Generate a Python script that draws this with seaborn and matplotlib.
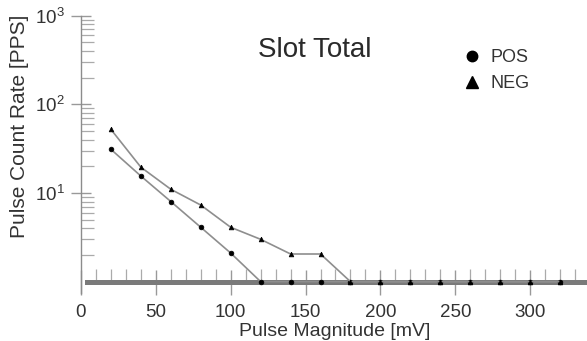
import matplotlib
matplotlib.use("Agg")
import numpy as np
import pandas as pd
import seaborn as sns
import matplotlib.pyplot as plt
from matplotlib.lines import Line2D
from matplotlib.ticker import FixedLocator, MultipleLocator, FixedFormatter, NullFormatter

# ---- data ----
magnitude_mv = [20, 40, 60, 80, 100, 120, 140, 160, 180, 200, 220, 240, 260, 280, 300, 320]
pos_rate = [31, 15.5, 8, 4.1, 2.1, 1, 1, 1, 1, 1, 1, 1, 1, 1, 1, 1]
neg_rate = [52, 19.5, 11, 7.3, 4.1, 3.0, 2.05, 2.05, 1, 1, 1, 1, 1, 1, 1, 1]
series_names = ["POS", "NEG"]
title_text = "Slot Total"
x_label = "Pulse Magnitude [mV]"
y_label = "Pulse Count Rate [PPS]"
x_ticks = [0, 50, 100, 150, 200, 250, 300]
y_ticks = [10, 100, 1000]
y_tick_labels = [r"$10^{1}$", r"$10^{2}$", r"$10^{3}$"]

sns.set_style("ticks")
plt.rcParams["font.family"] = ["Liberation Sans", "DejaVu Sans"]
plt.rcParams["mathtext.fontset"] = "custom"
plt.rcParams["mathtext.rm"] = "Liberation Sans"
plt.rcParams["mathtext.it"] = "Liberation Sans"

W, H = 587, 341
fig = plt.figure(figsize=(W / 100, H / 100), dpi=100)
fig.patch.set_facecolor("white")
ax_left, ax_top, ax_bottom = 81, 15.5, 293
ax = fig.add_axes([ax_left / W, 1 - ax_bottom / H, (W - ax_left) / W, (ax_bottom - ax_top) / H])
ax.set_facecolor("white")

n = len(magnitude_mv)
df = pd.DataFrame({
    "mag": magnitude_mv * 2,
    "rate": pos_rate + neg_rate,
    "series": [series_names[0]] * n + [series_names[1]] * n,
})

line_gray = "#8e8e8e"
sns.lineplot(data=df, x="mag", y="rate", hue="series", style="series",
             markers={"POS": "o", "NEG": "^"}, dashes=False,
             palette={"POS": line_gray, "NEG": line_gray},
             markersize=3.4, linewidth=1.2, markerfacecolor="black",
             markeredgecolor="black", markeredgewidth=0.5,
             legend=False, ax=ax, zorder=4, clip_on=False)

ax.set_yscale("log")
ax.set_xlim(0, 338)
ax.set_ylim(0.745, 1000)

# spines
for s in ["top", "right"]:
    ax.spines[s].set_visible(False)
ax.spines["left"].set_color("#8c8c8c")
ax.spines["left"].set_linewidth(1.0)
ax.spines["bottom"].set_position(("data", 1))
ax.spines["bottom"].set_color("#7a7a7a")
ax.spines["bottom"].set_linewidth(3.6)
ax.spines["bottom"].set_bounds(3.8, 338)
ax.spines["bottom"].set_zorder(2.5)

# x ticks
ax.xaxis.set_major_locator(FixedLocator(x_ticks))
ax.xaxis.set_minor_locator(MultipleLocator(10))
ax.tick_params(axis="x", which="major", direction="inout", length=18, width=1.0,
               color="#999999", labelsize=13.5, pad=7, labelcolor="#333333")
ax.tick_params(axis="x", which="minor", direction="in", length=9.5, width=0.9,
               color="#aaaaaa")

# y ticks
ax.yaxis.set_major_locator(FixedLocator(y_ticks))
ax.yaxis.set_major_formatter(FixedFormatter(y_tick_labels))
minor_y = [k * 10.0 ** d for d in range(0, 3) for k in range(2, 10)]
ax.yaxis.set_minor_locator(FixedLocator(minor_y))
ax.yaxis.set_minor_formatter(NullFormatter())
ax.tick_params(axis="y", which="major", direction="inout", length=14, width=1.0,
               color="#999999", labelsize=13.5, pad=5, labelcolor="#333333")
ax.tick_params(axis="y", which="minor", direction="in", length=9, width=0.9,
               color="#aaaaaa")

# axis labels
ax.set_xlabel(x_label, fontsize=14, color="#333333")
ax.xaxis.set_label_coords((334.5 - ax_left) / (W - ax_left), (ax_bottom - 331.7) / (ax_bottom - ax_top))
ax.xaxis.label.set_va("center")
ax.set_ylabel(y_label, fontsize=15, color="#333333")
ax.yaxis.set_label_coords((19.5 - ax_left) / (W - ax_left), (ax_bottom - 126) / (ax_bottom - ax_top))
ax.yaxis.label.set_va("center")
ax.yaxis.label.set_ha("center")

# title inside plot
fig.text(258 / W, 1 - 57.3 / H, title_text, fontsize=20, color="#2a2a2a",
         ha="left", va="baseline")

# legend
handles = [
    Line2D([], [], marker="o", color="black", linestyle="none", markersize=7.5),
    Line2D([], [], marker="^", color="black", linestyle="none", markersize=8),
]
ax.legend(handles, series_names, loc="upper left",
          bbox_to_anchor=(463 / W, 1 - 49.3 / H), bbox_transform=fig.transFigure,
          frameon=False, borderpad=0, borderaxespad=0, handlelength=1.0,
          handletextpad=0.5, labelspacing=0.5, prop={"size": 13},
          labelcolor="#333333")

fig.savefig("out.png", dpi=100, facecolor="white")
